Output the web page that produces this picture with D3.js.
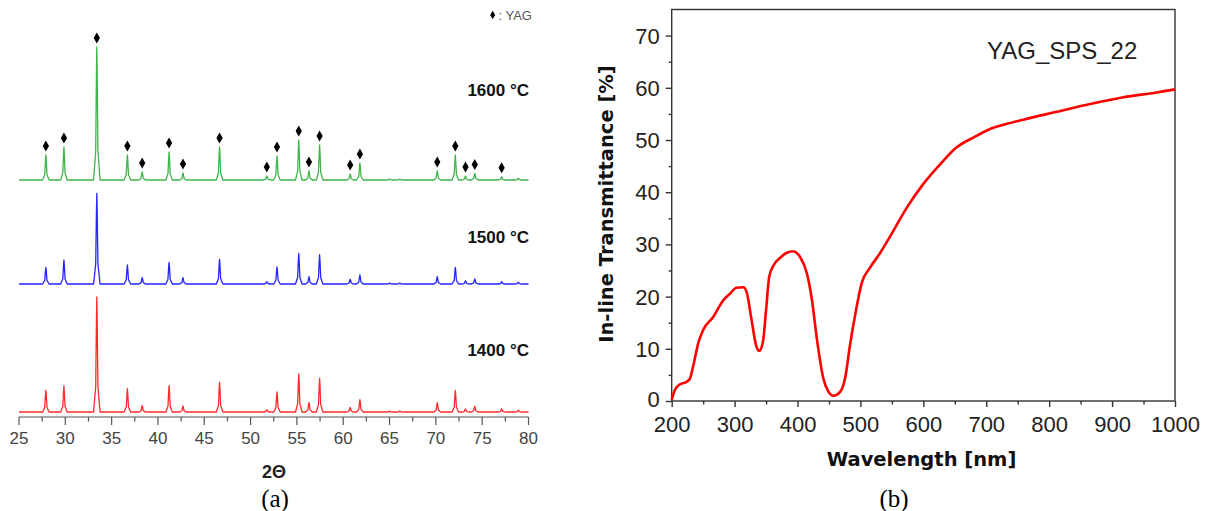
<!DOCTYPE html>
<html>
<head>
<meta charset="utf-8">
<script src="https://cdn.jsdelivr.net/npm/d3@7"></script>
<style>
  body { margin: 0; background: #fff; }
  svg { display: block; }
</style>
</head>
<body>
<div class="chart"></div>
<script>
// ---- data: XRD patterns (a) ----
const peakPos = [27.9, 29.85, 33.4, 36.7, 38.3, 41.2, 42.7, 46.65, 51.75, 52.85, 55.2, 56.3, 57.45, 60.75, 61.8, 65.0, 66.1, 70.15, 72.1, 73.2, 74.2, 77.1, 78.9]
const green1600 = [25, 33, 133, 25, 8, 28, 7, 33, 4, 24, 40, 9, 35, 6, 17, 1, 1, 9, 25, 4, 6.5, 3.3, 1.7]
const blue1500 = [16.7, 24, 90.7, 19, 6.3, 21.7, 6.3, 24.7, 2.3, 17, 30.7, 7.3, 29.3, 4.7, 9, 1, 1, 7.3, 16.7, 3.3, 5, 2.3, 1.7]
const red1400 = [21.7, 26, 115, 23.3, 6.3, 26.3, 6, 29.7, 2.3, 20, 38, 9.7, 33.7, 4.7, 12.3, 1, 1, 9, 21.7, 3, 5.7, 3.3, 1.7]
const yagPeaks = [27.9, 29.85, 33.4, 36.7, 38.3, 41.2, 42.7, 46.65, 51.75, 52.85, 55.2, 56.3, 57.45, 60.75, 61.8, 70.15, 72.1, 73.2, 74.2, 77.1]
const seriesNames = ["1400 °C", "1500 °C", "1600 °C"]
const seriesOffsets = [0, 128, 232]
const xrdTicks = d3.range(25, 81, 5)

// ---- data: transmittance (b) ----
const wavelength = [200, 205, 212, 224, 229, 234, 242, 250, 266, 282, 293, 303, 314, 319, 327, 334, 339, 345, 350, 355, 362, 372, 383, 393, 404, 415, 423, 431, 441, 449, 457, 468, 476, 483, 493, 502, 515, 531, 547, 574, 600, 627, 653, 680, 706, 733, 759, 812, 865, 918, 971, 1000]
const transmittance = [0.2, 2.1, 3.1, 3.7, 4.3, 6.6, 11, 13.6, 16.1, 19.3, 20.6, 21.7, 21.8, 20.9, 15.5, 10.7, 9.6, 11.3, 17.4, 23.8, 26, 27.4, 28.4, 28.7, 27.6, 24.4, 19.3, 11.7, 4.3, 1.8, 1.0, 1.8, 4.6, 10.4, 17.4, 22.6, 25.5, 28.3, 31.5, 37.1, 41.6, 45.4, 48.6, 50.5, 52.1, 53.1, 53.9, 55.4, 56.9, 58.2, 59.1, 59.7]
const wlTicks = d3.range(200, 1001, 100)
const tTicks = d3.range(0, 71, 10)

const SANS = "Arial, 'Liberation Sans', sans-serif"
const BOLD_SANS = "Tahoma, 'DejaVu Sans', sans-serif"
const SERIF = "'Times New Roman', 'Liberation Serif', serif"

const W = 1209, H = 511
const svg = d3.select(".chart").append("svg")
    .attr("width", W)
    .attr("height", H)

// ================= panel (a) =================
const xA = d3.scaleLinear().domain([25, 80]).range([19, 528.5])
const yA = d3.scaleLinear().domain([0, 400]).range([412, 12])
const colorsA = ["#ff2b2b", "#2525ff", "#3fb54a"]
const seriesData = [red1400, blue1500, green1600]

// flat baseline with a narrow profile drawn at every peak
const pattern = (heights) => {
    const pts = [[25, 0]]
    peakPos.forEach((p, i) => {
        const h = heights[i]
        pts.push([p - 0.35, 0], [p - 0.12, h * 0.22], [p - 0.04, h * 0.8], [p, h],
                 [p + 0.04, h * 0.8], [p + 0.12, h * 0.22], [p + 0.35, 0])
    })
    pts.push([80, 0])
    return pts
}

const gA = svg.append("g").attr("class", "panel-a")

seriesData.forEach((s, k) => {
    const off = seriesOffsets[k]
    const line = d3.line()
        .x(d => xA(d[0]))
        .y(d => yA(d[1] + off))
    gA.append("path")
        .datum(pattern(s))
        .attr("d", line)
        .attr("fill", "none")
        .attr("stroke", colorsA[k])
        .attr("stroke-width", 1.3)
        .attr("stroke-linejoin", "round")
})

// YAG markers above green peaks
const diamond = d3.symbol().type(d3.symbolDiamond).size(34)
gA.selectAll(".yag")
    .data(yagPeaks)
    .enter()
    .append("path")
        .attr("class", "yag")
        .attr("d", diamond)
        .attr("fill", "#000")
        .attr("transform", d => {
            const i = peakPos.indexOf(d)
            return `translate(${xA(d)},${yA(green1600[i] + seriesOffsets[2]) - 9})`
        })

// series labels
const labelY = [355.5, 243, 95.5]
seriesNames.forEach((n, k) => {
    gA.append("text")
        .attr("x", 529)
        .attr("y", labelY[k])
        .attr("text-anchor", "end")
        .attr("font-family", SANS)
        .attr("font-size", 17)
        .attr("font-weight", "bold")
        .attr("fill", "#111")
        .text(n)
})

// legend
gA.append("path")
    .attr("d", d3.symbol().type(d3.symbolDiamond).size(22))
    .attr("transform", "translate(492.7,15)")
    .attr("fill", "#000")
gA.append("text")
    .attr("x", 498.5)
    .attr("y", 19.5)
    .attr("font-family", SANS)
    .attr("font-size", 13)
    .attr("fill", "#555")
    .text(": YAG")

// x axis
const axA = gA.append("g")
    .attr("transform", "translate(0,417)")
axA.append("line")
    .attr("x1", xA(25)).attr("x2", xA(80))
    .attr("stroke", "#555").attr("stroke-width", 1.2)
axA.selectAll(".minor")
    .data(d3.range(25, 80.1, 2.5))
    .enter()
    .append("line")
        .attr("x1", d => xA(d)).attr("x2", d => xA(d))
        .attr("y1", 0).attr("y2", d => d % 5 === 0 ? 8 : 4.5)
        .attr("stroke", "#555").attr("stroke-width", 1.2)
axA.selectAll(".lbl")
    .data(xrdTicks)
    .enter()
    .append("text")
        .attr("x", d => xA(d))
        .attr("y", 27)
        .attr("text-anchor", "middle")
        .attr("font-family", SANS)
        .attr("font-size", 17)
        .attr("fill", "#444")
        .text(d => d)

gA.append("text")
    .attr("x", 274)
    .attr("y", 478)
    .attr("text-anchor", "middle")
    .attr("font-family", SANS)
    .attr("font-size", 18)
    .attr("font-weight", "bold")
    .attr("fill", "#222")
    .text("2Θ")

gA.append("text")
    .attr("x", 275)
    .attr("y", 507)
    .attr("text-anchor", "middle")
    .attr("font-family", SERIF)
    .attr("font-size", 25)
    .attr("fill", "#000")
    .text("(a)")

// ================= panel (b) =================
const xB = d3.scaleLinear().domain([200, 1000]).range([671.7, 1175])
const yB = d3.scaleLinear().domain([0, 75]).range([401, 9.5])

const gB = svg.append("g").attr("class", "panel-b")

gB.append("rect")
    .attr("x", xB(200)).attr("y", yB(75))
    .attr("width", xB(1000) - xB(200))
    .attr("height", yB(0) - yB(75))
    .attr("fill", "none")
    .attr("stroke", "#333")
    .attr("stroke-width", 1.4)

const xAxisB = d3.axisBottom(xB)
    .tickValues(d3.range(200, 1001, 50))
    .tickFormat(d => wlTicks.includes(d) ? d : "")
    .tickSize(5)
    .tickPadding(10)
const gx = gB.append("g")
    .attr("transform", `translate(0,${yB(0)})`)
    .call(xAxisB)
gx.select(".domain").remove()
gx.selectAll(".tick line")
    .attr("stroke", "#333").attr("stroke-width", 1.4)
    .attr("y2", d => d % 100 === 0 ? 6 : 3.5)
gx.selectAll(".tick text")
    .attr("font-family", SANS)
    .attr("font-size", 22)
    .attr("fill", "#222")

const yAxisB = d3.axisLeft(yB)
    .tickValues(d3.range(0, 71, 5))
    .tickFormat(d => tTicks.includes(d) ? d : "")
    .tickSize(5)
    .tickPadding(7)
const gy = gB.append("g")
    .attr("transform", `translate(${xB(200)},0)`)
    .call(yAxisB)
gy.select(".domain").remove()
gy.selectAll(".tick line")
    .attr("stroke", "#333").attr("stroke-width", 1.4)
    .attr("x2", d => d % 10 === 0 ? -6 : -3)
gy.selectAll(".tick text")
    .attr("font-family", SANS)
    .attr("font-size", 22)
    .attr("fill", "#222")
    .attr("dy", "0.34em")
gy.selectAll(".tick text").filter(d => d === 0).attr("dy", "0.26em")

const lineB = d3.line()
    .x((d, i) => xB(wavelength[i]))
    .y(d => yB(d))
    .curve(d3.curveMonotoneX)
gB.append("path")
    .datum(transmittance)
    .attr("d", lineB)
    .attr("fill", "none")
    .attr("stroke", "#ff0000")
    .attr("stroke-width", 2.6)
    .attr("stroke-linejoin", "round")

gB.append("text")
    .attr("x", 987)
    .attr("y", 59)
    .attr("font-family", SANS)
    .attr("font-size", 24)
    .attr("fill", "#222")
    .text("YAG_SPS_22")

gB.append("text")
    .attr("x", 921.5)
    .attr("y", 466)
    .attr("text-anchor", "middle")
    .attr("font-family", BOLD_SANS)
    .attr("font-size", 19.5)
    .attr("font-weight", "bold")
    .attr("fill", "#111")
    .text("Wavelength [nm]")

gB.append("text")
    .attr("transform", "translate(613,204) rotate(-90)")
    .attr("text-anchor", "middle")
    .attr("font-family", BOLD_SANS)
    .attr("font-size", 19.5)
    .attr("font-weight", "bold")
    .attr("fill", "#111")
    .text("In-line Transmittance [%]")

gB.append("text")
    .attr("x", 894)
    .attr("y", 507)
    .attr("text-anchor", "middle")
    .attr("font-family", SERIF)
    .attr("font-size", 25)
    .attr("fill", "#000")
    .text("(b)")
</script>
</body>
</html>
